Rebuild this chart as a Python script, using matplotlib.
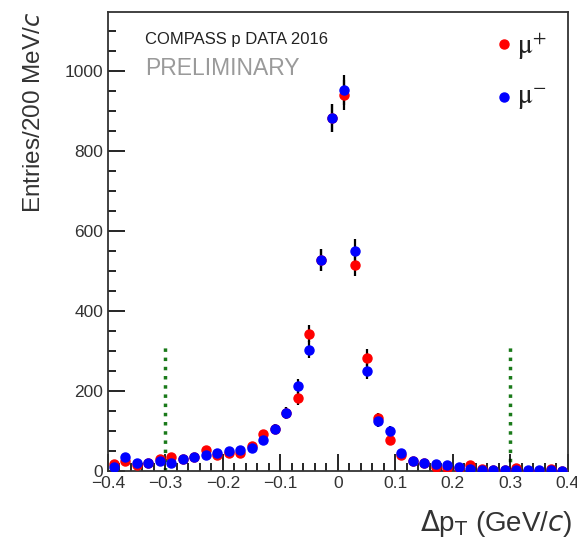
import numpy as np
import matplotlib.pyplot as plt
from matplotlib.ticker import MultipleLocator

plt.rcParams['font.family'] = ['Liberation Sans', 'DejaVu Sans']

# bin centres of delta p_T (GeV/c), 20 MeV wide bins
bin_centres = np.arange(-0.39, 0.40, 0.02)

# mu+ counts per bin
mu_plus = [18, 27, 17, 20, 30, 37, 30, 37, 52, 42,
           45, 47, 63, 92, 105, 145, 182, 344, 528, 882,
           940, 514, 284, 132, 77, 42, 25, 20, 10, 9,
           8, 15, 5, 4, 3, 8, 2, 2, 5, 2]
# mu- counts per bin
mu_minus = [12, 35, 20, 20, 27, 22, 32, 35, 42, 47,
            50, 54, 58, 77, 105, 145, 212, 304, 528, 882,
            952, 551, 250, 125, 100, 45, 27, 21, 18, 16,
            10, 7, 3, 4, 4, 3, 3, 3, 3, 2]

cut_lines = [-0.3, 0.3]
x_ticklabels = ['\u22120.4', '\u22120.3', '\u22120.2', '\u22120.1', '0',
                '0.1', '0.2', '0.3', '0.4']

fig = plt.figure(figsize=(5.77, 5.43), dpi=100)
ax = fig.add_axes([0.187, 0.132, 0.797, 0.846])

for counts, col in [(mu_plus, 'red'), (mu_minus, 'blue')]:
    counts = np.array(counts, dtype=float)
    err = np.sqrt(counts) * 1.2
    ax.errorbar(bin_centres, counts, yerr=err, fmt='none', ecolor='black',
                elinewidth=1.6, capsize=0, zorder=2)
    ax.plot(bin_centres, counts, 'o', color=col, ms=6.5, mec=col, zorder=3)

for xc in cut_lines:
    ax.plot([xc, xc], [0, 310], color='#1a7a1a', ls=':', lw=2.5, zorder=1)

ax.set_xlim(-0.4, 0.4)
ax.set_ylim(0, 1147)
ax.xaxis.set_minor_locator(MultipleLocator(0.02))
ax.yaxis.set_major_locator(MultipleLocator(200))
ax.yaxis.set_minor_locator(MultipleLocator(50))
ax.tick_params(which='both', direction='in', top=False, right=False,
               labelsize=12.5, labelcolor='#333333', width=1.2)
ax.tick_params(which='major', length=12)
ax.tick_params(which='minor', length=6)
ax.set_xticks(np.arange(-0.4, 0.41, 0.1))
ax.set_xticklabels(x_ticklabels)
for sp in ax.spines.values():
    sp.set_linewidth(1.3)
    sp.set_color('#333333')

ax.set_ylabel('Entries/200 MeV/$c$', fontsize=17.5, color='#333333', loc='top')
ax.yaxis.set_label_coords(-0.137, 1.0)
ax.set_xlabel(r'$\Delta$p$_{\rm T}$ (GeV/$c$)', fontsize=20, color='#333333',
              loc='right')
ax.xaxis.set_label_coords(1.01, -0.08)

ax.text(0.08, 0.94, 'COMPASS p DATA 2016', transform=ax.transAxes,
        fontsize=12, color='#222222', va='center')
ax.text(0.08, 0.876, 'PRELIMINARY', transform=ax.transAxes,
        fontsize=16.5, color='#9a9a9a', va='center')

# legend
ax.plot([0.861], [0.930], 'o', color='red', ms=6.5, transform=ax.transAxes)
ax.text(0.89, 0.925, r'$\mathrm{\mu}^{+}$', transform=ax.transAxes, fontsize=20,
        va='center', color='#222222', math_fontfamily='stix')
ax.plot([0.861], [0.815], 'o', color='blue', ms=6.5, transform=ax.transAxes)
ax.text(0.89, 0.81, r'$\mathrm{\mu}^{-}$', transform=ax.transAxes, fontsize=20,
        va='center', color='#222222', math_fontfamily='stix')

fig.savefig('out.png', dpi=100)
